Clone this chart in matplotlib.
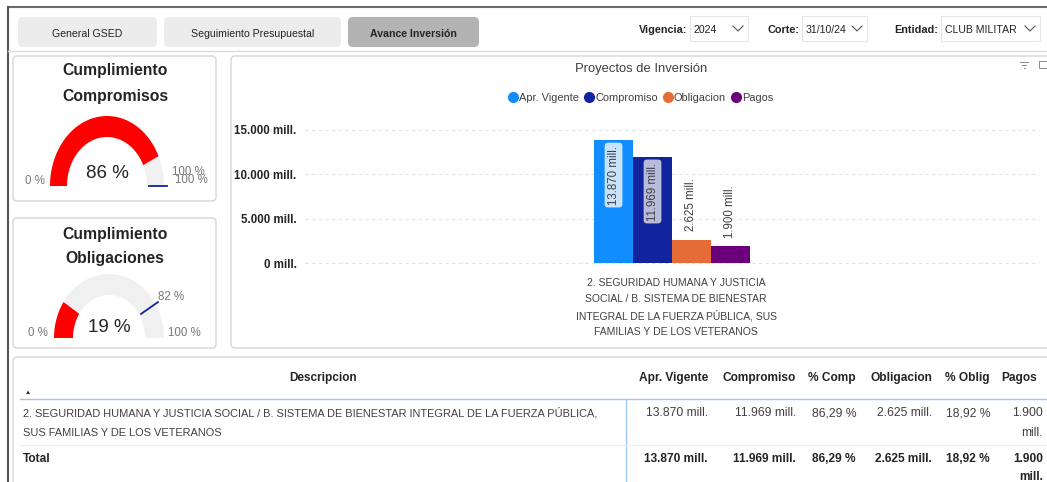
import numpy as np
import matplotlib
matplotlib.use("Agg")
import matplotlib.pyplot as plt
from matplotlib.patches import FancyBboxPatch, Rectangle, Polygon
from matplotlib.lines import Line2D

plt.rcParams['font.family'] = ['Liberation Sans', 'DejaVu Sans']

# datos
series = ['Apr. Vigente', 'Compromiso', 'Obligacion', 'Pagos']
valores = [13870, 11969, 2625, 1900]
colores = ['#118DFF', '#12239E', '#E66C37', '#6B007B']
categoria = ['2. SEGURIDAD HUMANA Y JUSTICIA', 'SOCIAL / B. SISTEMA DE BIENESTAR',
             'INTEGRAL DE LA FUERZA PÚBLICA, SUS', 'FAMILIAS Y DE LOS VETERANOS']
yticks = [0, 5000, 10000, 15000]

tabs = ['General GSED', 'Seguimiento Presupuestal', 'Avance Inversión']
filtros = [('Vigencia:', '2024'), ('Corte:', '31/10/24'), ('Entidad:', 'CLUB MILITAR')]

gauge_comp = 86
meta_comp = 100
gauge_oblig = 19
meta_oblig = 82

columnas = ['Apr. Vigente', 'Compromiso', '% Comp', 'Obligacion', '% Oblig', 'Pagos']
descripcion = ['2. SEGURIDAD HUMANA Y JUSTICIA SOCIAL / B. SISTEMA DE BIENESTAR INTEGRAL DE LA FUERZA PÚBLICA,',
               'SUS FAMILIAS Y DE LOS VETERANOS']
pct_comp = 86.29
pct_oblig = 18.92


def mill(v):
    return f"{v:,.0f}".replace(",", ".") + " mill."


def pct(v):
    return f"{v:.2f}".replace(".", ",") + " %"


W, H = 1047, 482
fig = plt.figure(figsize=(W / 100, H / 100), dpi=100)
fig.patch.set_facecolor('white')
bg = fig.add_axes([0, 0, 1, 1])
bg.set_xlim(0, W)
bg.set_ylim(H, 0)
bg.axis('off')

TXT = '#252423'
GRIS = '#404040'

# marco exterior
bg.plot([8, W], [7, 7], color='#6a6a6a', lw=1.5)
bg.plot([8, 8], [7, H], color='#555555', lw=1.5)
bg.plot([8, W], [51, 51], color='#dcdcdc', lw=1)

# pestañas
tab_x = [(18, 157), (164, 341), (348, 479)]
for i, (nombre, (x0, x1)) in enumerate(zip(tabs, tab_x)):
    activa = i == 2
    bg.add_patch(FancyBboxPatch((x0, 17), x1 - x0, 30, boxstyle="round,pad=0,rounding_size=5",
                                fc='#b3b3b3' if activa else '#ececec', ec='none'))
    bg.text((x0 + x1) / 2, 34, nombre, ha='center', va='center', fontsize=7.6,
            color=TXT, fontweight='bold' if activa else 'normal')

# filtros
filtro_pos = [(687, 690, 748), (799, 802, 867), (938, 941, 1040)]
for (etq, val), (xe, xb0, xb1) in zip(filtros, filtro_pos):
    bg.text(xe, 30, etq, ha='right', va='center', fontsize=7.8, fontweight='bold', color=TXT)
    bg.add_patch(Rectangle((xb0, 16), xb1 - xb0, 25, fc='white', ec='#e6e6e6', lw=0.8))
    bg.text(xb0 + 4, 30, val, ha='left', va='center', fontsize=7.6, color=TXT)
    cx = xb1 - 10
    bg.plot([cx - 5, cx, cx + 5], [26, 31, 26], color='#555555', lw=0.8)

# tarjetas
for (x, y, w, h) in [(13, 56, 203, 145), (13, 218, 203, 130), (231, 56, 830, 292), (13, 357, 1050, 140)]:
    bg.add_patch(FancyBboxPatch((x, y), w, h, boxstyle="round,pad=0,rounding_size=4",
                                fc='white', ec='#d6d6d6', lw=1))


# medidores
def arco(cx, cy, rxo, ryo, rxi, ryi, a0, a1, n=80):
    t = np.radians(np.linspace(a0, a1, n))
    xo = cx + rxo * np.cos(t)
    yo = cy - ryo * np.sin(t)
    xi = cx + rxi * np.cos(t[::-1])
    yi = cy - ryi * np.sin(t[::-1])
    return np.column_stack([np.r_[xo, xi], np.r_[yo, yi]])


def medidor(cx, cy, rxo, ryo, rxi, ryi, valor, meta):
    ang = 180 - 1.8 * valor
    bg.add_patch(Polygon(arco(cx, cy, rxo, ryo, rxi, ryi, ang, 0), fc='#f0f0f0', ec='none'))
    bg.add_patch(Polygon(arco(cx, cy, rxo, ryo, rxi, ryi, 180, ang), fc='#ff0000', ec='none'))
    am = np.radians(180 - 1.8 * meta)
    bg.plot([cx + (rxi + 2) * np.cos(am), cx + (rxo + 3) * np.cos(am)],
            [cy - (ryi + 2) * np.sin(am), cy - (ryo + 3) * np.sin(am)], color='#12239E', lw=1.3)


bg.text(115, 71, 'Cumplimiento', ha='center', va='center', fontsize=11.3, fontweight='bold', color=TXT)
bg.text(115, 96, 'Compromisos', ha='center', va='center', fontsize=11.3, fontweight='bold', color=TXT)
medidor(107, 186, 57, 70, 40, 49, gauge_comp, meta_comp)
bg.text(107, 174, f'{gauge_comp} %', ha='center', va='center', fontsize=13.5, color=TXT)
bg.text(45, 181, '0 %', ha='right', va='center', fontsize=8.3, color='#777777')
bg.text(172, 172, f'{meta_comp} %', ha='left', va='center', fontsize=8.3, color='#777777')
bg.text(175, 180, f'{meta_comp} %', ha='left', va='center', fontsize=8.3, color='#777777')

bg.text(115, 234, 'Cumplimiento', ha='center', va='center', fontsize=11.3, fontweight='bold', color=TXT)
bg.text(115, 258, 'Obligaciones', ha='center', va='center', fontsize=11.3, fontweight='bold', color=TXT)
medidor(109, 338, 55, 64, 36, 43, gauge_oblig, meta_oblig)
bg.text(109, 327, f'{gauge_oblig} %', ha='center', va='center', fontsize=13.5, color=TXT)
bg.text(48, 333, '0 %', ha='right', va='center', fontsize=8.3, color='#777777')
bg.text(158, 297, f'{meta_oblig} %', ha='left', va='center', fontsize=8.3, color='#777777')
bg.text(168, 333, '100 %', ha='left', va='center', fontsize=8.3, color='#777777')

# grafico de barras
bg.text(641, 69, 'Proyectos de Inversión', ha='center', va='center', fontsize=9.4, color=GRIS)
bg.plot([1020, 1028], [62, 62], color='#888888', lw=0.7)
bg.plot([1022, 1026], [65, 65], color='#888888', lw=0.7)
bg.plot([1023.5, 1024.5], [68, 68], color='#888888', lw=0.7)
bg.add_patch(Rectangle((1039, 61), 8, 7, fc='none', ec='#888888', lw=0.7))

ax = fig.add_axes([305 / W, 1 - 263 / H, 734 / W, 133 / H])
ax.set_xlim(-0.5, 0.5)
ax.set_ylim(0, 15000)
ancho = 0.0531
for i, (s, v, c) in enumerate(zip(series, valores, colores)):
    x = (i - 1.5) * ancho
    ax.bar(x, v, width=ancho, color=c, zorder=3)
    if v > 8000:
        caja = '#c9e3fb' if i == 0 else '#b8bcdc'
        ax.annotate(mill(v), (x, v), xytext=(0, -4), textcoords='offset points', rotation=90,
                    ha='center', va='top', fontsize=8.3, color=GRIS, zorder=4,
                    bbox=dict(boxstyle='round,pad=0.25,rounding_size=0.3', fc=caja, ec='none'))
    else:
        ax.annotate(mill(v), (x, v), xytext=(0, 6), textcoords='offset points', rotation=90,
                    ha='center', va='bottom', fontsize=8.3, color=GRIS, zorder=4)
ax.set_yticks(yticks)
ax.set_yticklabels([f"{t:,.0f}".replace(",", ".") + " mill." for t in yticks],
                   fontweight='bold', fontsize=8.3, color=TXT)
ax.tick_params(axis='y', length=0, pad=6)
ax.set_xticks([])
ax.grid(axis='y', color='#e3e3e3', ls=(0, (3, 3)), lw=0.8, zorder=0)
for sp in ax.spines.values():
    sp.set_visible(False)
for gl in ax.get_ygridlines():
    gl.set_clip_on(False)
ax.patch.set_alpha(0)

for linea, y in zip(categoria, [283, 299, 316, 332]):
    bg.text(676, y, linea, ha='center', va='center', fontsize=7.5, color=GRIS)

handles = [Line2D([], [], marker='o', ls='none', color=c, markersize=7) for c in colores]
fig.legend(handles, series, loc='center', bbox_to_anchor=(641 / W, 1 - 98 / H), ncol=4,
           frameon=False, fontsize=7.9, handletextpad=0.15, columnspacing=0.5, handlelength=0.8,
           labelcolor=GRIS, borderaxespad=0)

# tabla
col_der = [708, 796, 856, 932, 990, 1037]
bg.text(323, 378, 'Descripcion', ha='center', va='center', fontsize=8.5, fontweight='bold', color=TXT)
bg.text(28, 392, '▲', ha='center', va='center', fontsize=4.5, color=TXT)
for c, x in zip(columnas, col_der):
    bg.text(x, 378, c, ha='right', va='center', fontsize=8.6, fontweight='bold', color=TXT)
bg.plot([20, W], [399, 399], color='#9fc5f0', lw=1)
bg.plot([626, 626], [399, H], color='#9fc5f0', lw=1)
bg.plot([20, W], [445, 445], color='#ececec', lw=1)

bg.text(23, 413, descripcion[0], ha='left', va='center', fontsize=7.9, color=GRIS)
bg.text(23, 433, descripcion[1], ha='left', va='center', fontsize=7.9, color=GRIS)
bg.text(23, 459, 'Total', ha='left', va='center', fontsize=8.6, fontweight='bold', color=TXT)

fila = [mill(valores[0]), mill(valores[1]), pct(pct_comp), mill(valores[2]), pct(pct_oblig)]
col_val = [708, 796, 856, 932, 990]
for t, x in zip(fila, col_val):
    bg.text(x, 413, t, ha='right', va='center', fontsize=8.7, color=GRIS)
    bg.text(x, 459, t, ha='right', va='center', fontsize=8.6, fontweight='bold', color=TXT)
pagos = mill(valores[3]).split(' ')
bg.text(1043, 413, pagos[0], ha='right', va='center', fontsize=8.7, color=GRIS)
bg.text(1043, 433, pagos[1], ha='right', va='center', fontsize=8.7, color=GRIS)
bg.text(1043, 459, pagos[0], ha='right', va='center', fontsize=8.6, fontweight='bold', color=TXT)
bg.text(1043, 477, pagos[1], ha='right', va='center', fontsize=8.6, fontweight='bold', color=TXT)

fig.savefig('out.png', dpi=100)
